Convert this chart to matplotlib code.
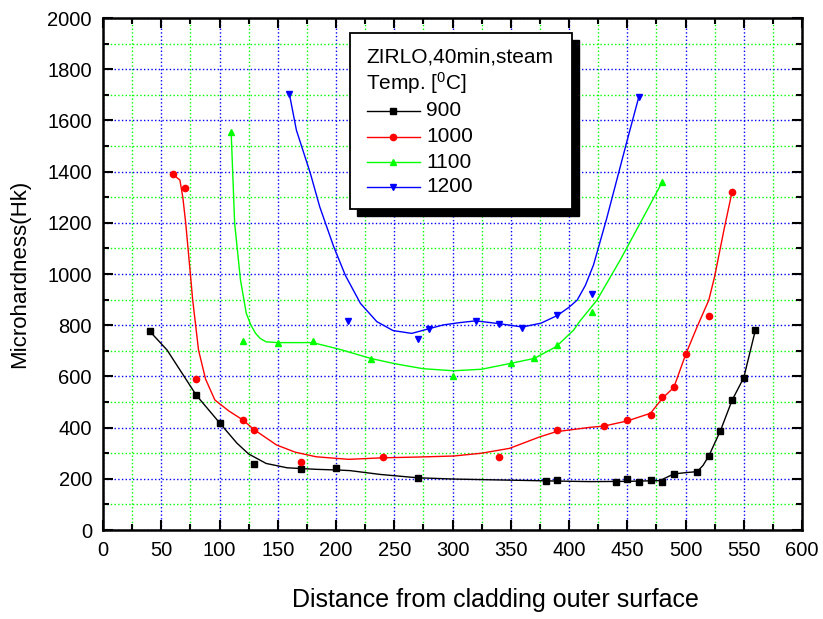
import matplotlib
matplotlib.use("Agg")
import matplotlib.pyplot as plt
from matplotlib.lines import Line2D
from matplotlib.patches import Rectangle
from matplotlib.ticker import MultipleLocator

plt.rcParams["font.family"] = ["Liberation Sans", "DejaVu Sans"]
plt.rcParams["mathtext.default"] = "regular"

# series labels and styles
temps = ["900", "1000", "1100", "1200"]
colors = ["black", "red", "#00ff00", "blue"]
markers = ["s", "o", "^", "v"]

# measured points (distance, Hk)
x_900 = [40, 80, 100, 130, 170, 200, 270, 380, 390, 440, 450, 460, 470, 480, 490, 510, 520, 530, 540, 550, 560]
y_900 = [777, 527, 419, 258, 237, 241, 204, 193, 194, 189, 198, 189, 195, 189, 219, 228, 289, 388, 507, 595, 781]

x_1000 = [60, 70, 80, 120, 130, 170, 240, 340, 390, 430, 450, 470, 480, 490, 500, 520, 540]
y_1000 = [1390, 1336, 590, 430, 391, 267, 284, 284, 391, 407, 430, 450, 520, 559, 688, 836, 1322]

x_1100 = [110, 120, 150, 180, 230, 300, 350, 370, 390, 420, 480]
y_1100 = [1556, 738, 730, 738, 669, 603, 651, 670, 721, 850, 1359]

x_1200 = [160, 210, 270, 280, 320, 340, 360, 390, 420, 460]
y_1200 = [1703, 817, 747, 786, 817, 806, 790, 838, 922, 1693]

# smoothed fit curves as drawn in the original
cx_900 = [40, 55, 80, 100, 115, 125, 140, 158, 183, 203, 212, 238, 270, 301, 346, 392, 418, 450, 478, 490, 500, 510, 515, 520, 530, 540, 550, 560]
cy_900 = [777, 703, 527, 419, 339, 297, 260, 243, 237, 234, 232, 217, 204, 199, 195, 191, 189, 190, 193, 219, 224, 228, 252, 289, 388, 507, 595, 781]

cx_1000 = [60, 63, 66, 68.5, 71, 75, 77, 82, 88, 96, 108, 120, 130, 149, 165, 183, 211, 240, 270, 301, 325, 349, 375, 389, 418, 430, 450, 470, 480, 490, 500, 510, 520, 525, 533, 540]
cy_1000 = [1390, 1378, 1367, 1300, 1199, 1000, 898, 703, 590, 508, 465, 430, 391, 332, 304, 286, 276, 282, 285, 289, 300, 319, 364, 384, 401, 406, 426, 456, 514, 557, 684, 794, 898, 990, 1172, 1322]

cx_1100 = [110, 113, 118, 123, 127, 131, 135, 140, 150, 180, 203, 230, 249, 261, 275, 301, 325, 350, 370, 389, 404, 409, 424, 444, 461, 480]
cy_1100 = [1556, 1198, 977, 846, 800, 768, 748, 735, 732, 732, 706, 670, 651, 641, 630, 622, 628, 651, 670, 716, 781, 814, 898, 1055, 1198, 1359]

cx_1200 = [160, 166, 178, 186, 195, 198, 208, 221, 235, 249, 265, 278, 292, 306, 320, 340, 360, 376, 390, 400, 407, 414, 421, 432, 441, 450, 460]
cy_1200 = [1703, 1562, 1393, 1263, 1146, 1107, 995, 885, 814, 779, 768, 784, 801, 810, 817, 806, 793, 808, 838, 870, 898, 955, 1035, 1211, 1367, 1523, 1693]

points = [(x_900, y_900), (x_1000, y_1000), (x_1100, y_1100), (x_1200, y_1200)]
curves = [(cx_900, cy_900), (cx_1000, cy_1000), (cx_1100, cy_1100), (cx_1200, cy_1200)]

W, H = 823, 619
fig = plt.figure(figsize=(W / 100, H / 100), dpi=100)
ax = fig.add_axes([103 / W, 1 - 530 / H, 699 / W, 512 / H])

for (px, py), (cx, cy), c, m in zip(points, curves, colors, markers):
    ax.plot(cx, cy, color=c, lw=1.0, zorder=3)
    ax.plot(px, py, ls="none", marker=m, color=c, ms=4.5, zorder=4)

ax.set_xlim(0, 600)
ax.set_ylim(0, 2000)
ax.xaxis.set_major_locator(MultipleLocator(50))
ax.xaxis.set_minor_locator(MultipleLocator(25))
ax.yaxis.set_major_locator(MultipleLocator(200))
ax.yaxis.set_minor_locator(MultipleLocator(100))

# blue major grid, green minor grid
ax.set_axisbelow(True)
ax.grid(which="major", color="blue", ls=":", lw=1.0)
ax.grid(which="minor", color="#00ff00", ls=":", lw=1.0)

ax.tick_params(which="both", direction="in", top=True, right=True, width=1.5, labelsize=14.5)
ax.tick_params(which="major", length=7, pad=8)
ax.tick_params(which="minor", length=4)
for sp in ax.spines.values():
    sp.set_linewidth(1.8)

# the x title sits a bit right of centre in the original
ax.set_xlabel("Distance from cladding outer surface", fontsize=18, labelpad=20, x=0.561)
ax.set_ylabel("Microhardness(Hk)", fontsize=16, labelpad=12)


# hand-made legend box with shadow, positioned in pixels
def fx(x):
    return x / W


def fy(y):
    return 1 - y / H


fig.add_artist(Rectangle((fx(357), fy(216)), fx(222), 176 / H, transform=fig.transFigure,
                         facecolor="black", edgecolor="black", zorder=5))
fig.add_artist(Rectangle((fx(350), fy(209)), fx(222), 176 / H, transform=fig.transFigure,
                         facecolor="white", edgecolor="black", lw=1.3, zorder=6))
fig.text(fx(366), fy(57), "ZIRLO,40min,steam", fontsize=15, va="center", zorder=7)
fig.text(fx(366), fy(83), "Temp. [$^0$C]", fontsize=15, va="center", zorder=7)
rows = [111, 137, 162, 187]
for t, c, m, r in zip(temps, colors, markers, rows):
    fig.add_artist(Line2D([fx(367), fx(393), fx(420)], [fy(r)] * 3, transform=fig.transFigure,
                          color=c, lw=1.0, marker=m, ms=4.5, markevery=[1], zorder=7))
    fig.text(fx(426), fy(r), t, fontsize=15, va="center", zorder=7)

fig.savefig("out.png", dpi=100)
